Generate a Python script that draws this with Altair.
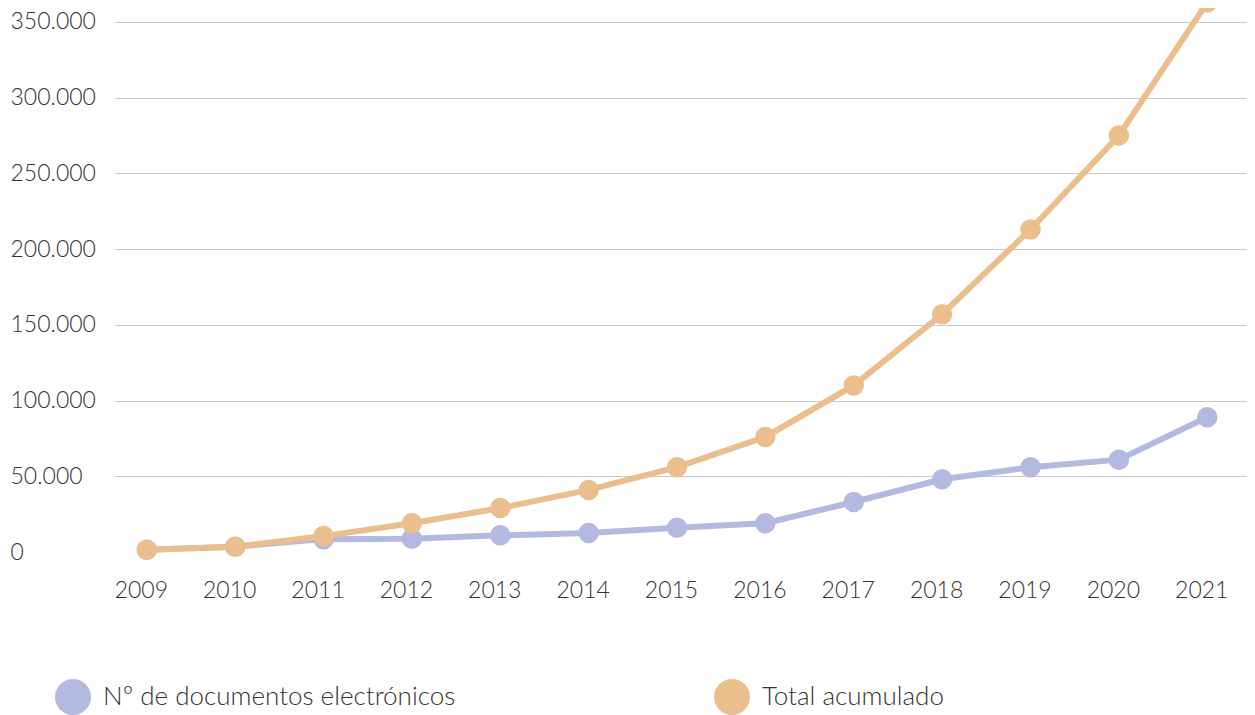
import altair as alt
import pandas as pd

years = list(range(2009, 2022))
documentos = [1500, 3500, 8500, 8800, 11000, 12500, 16000, 19000, 33000, 48000, 56000, 61000, 89000]
acumulado = [1500, 3500, 10500, 19000, 29000, 41000, 56000, 76000, 110000, 157000, 213000, 275000, 363000]
series = ["Nº de documentos electrónicos", "Total acumulado"]
colors = ["#b4b9e1", "#ebbf8d"]
y_ticks = [0, 50000, 100000, 150000, 200000, 250000, 300000, 350000]

rows = []
for s, vals in zip(series, [documentos, acumulado]):
    for yr, v in zip(years, vals):
        rows.append({"year": yr, "value": v, "serie": s})
df = pd.DataFrame(rows)

FONT = "Lato"

x_enc = alt.X("year:Q",
              scale=alt.Scale(domain=[2009 - 0.36, 2021 + 0.45], nice=False, zero=False),
              axis=alt.Axis(values=years, format="d", title=None, grid=False, domain=False,
                            ticks=False, labelPadding=27, labelFontSize=23, labelFont=FONT,
                            labelFontWeight=300, labelColor="#333333", labelFlush=False,
                            labelOffset=-6))
y_enc = alt.Y("value:Q",
              scale=alt.Scale(domain=[0, 359245], nice=False),
              axis=alt.Axis(values=y_ticks, title=None, domain=False, ticks=False,
                            labelAlign="left", labelPadding=105, labelBaseline="middle",
                            labelExpr="replace(format(datum.value, ',d'), /,/g, '.')",
                            labelFontSize=23, labelFont=FONT, labelFontWeight=300,
                            labelColor="#333333", labelFlush=False,
                            gridColor=alt.condition(alt.datum.value == 0, alt.value("rgba(0,0,0,0)"), alt.value("#c8c8c8")),
                            gridWidth=1))
color_enc = alt.Color("serie:N",
                      scale=alt.Scale(domain=series, range=colors),
                      legend=alt.Legend(title=None, orient="none", legendX=-60, legendY=671,
                                        direction="horizontal", columns=2, columnPadding=258,
                                        symbolType="circle", symbolSize=1296, symbolStrokeWidth=0,
                                        labelFontSize=26, labelFont=FONT, labelFontWeight=300,
                                        labelColor="#333333", labelOffset=12, labelLimit=600))

layers = []
for s in series:
    base = alt.Chart(df).transform_filter(alt.datum.serie == s)
    layers.append(base.mark_line(strokeWidth=6, clip=False).encode(x=x_enc, y=y_enc, color=color_enc))
    layers.append(base.mark_point(filled=True, size=420, opacity=1, clip=False).encode(x=x_enc, y=y_enc, color=color_enc))

chart = alt.layer(*layers).properties(
    width=1132, height=544,
    autosize=alt.AutoSizeParams(type="none"),
    padding={"left": 107, "top": 0, "right": 0, "bottom": 195},
).configure(background="white").configure_view(stroke=None, strokeWidth=0)

chart.save("out.html", embed_options={"renderer": "svg", "actions": False})
